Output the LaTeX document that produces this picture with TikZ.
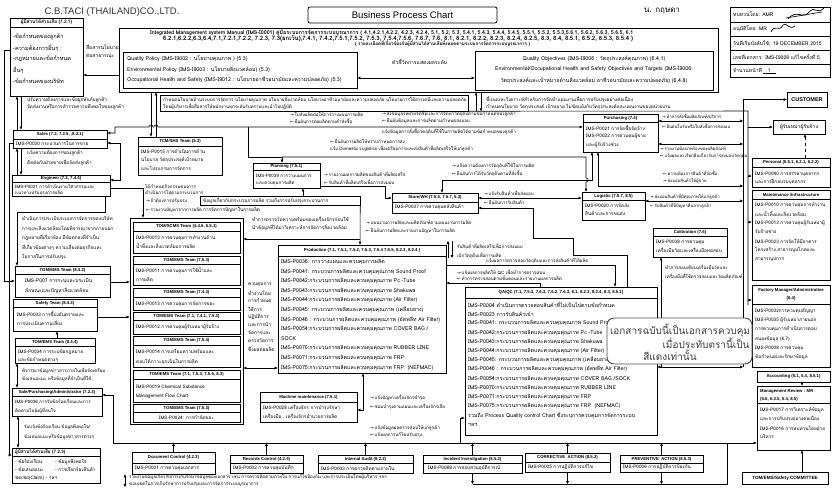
\documentclass[tikz,border=0pt]{standalone}
\usepackage{fontspec}
\setmainfont[Script=Thai]{Loma}
\newfontfamily\en{Liberation Sans}
\newfontfamily\sym{DejaVu Sans}
\usetikzlibrary{arrows.meta,fit}
\newcommand\RA{{\sym →}\,}
\newcommand\LA{{\sym ←}\,}
\tikzset{
  box/.style={draw, line width=0.8pt, inner sep=0pt},
  ln/.style={line width=0.55pt},
  tx/.style={inner sep=0pt, anchor=west, font=\fontsize{4.7}{5}\selectfont},
  sm/.style={font=\fontsize{4.3}{5}\selectfont},
  hd/.style={inner sep=0pt, anchor=center, font=\en\bfseries\fontsize{4.3}{5}\selectfont},
  hdt/.style={inner sep=0pt, anchor=center, font=\bfseries\fontsize{4.7}{5}\selectfont},
  >={Triangle[length=3pt,width=2.6pt]},
}
\newcommand\bx[6][box]{\node[#1, fit={(#3,#4)(#5,#6)}] (#2) {};}
\newcommand\hln{}
\renewcommand\hln[2]{\draw[line width=0.6pt] (#1.west |- 0,#2) -- (#1.east |- 0,#2);}
\newcommand\tx[5][]{\node[tx,#1] (#2) at (#3,#4) {#5};}
\newcommand\lns[6][]{\foreach \ltxt [count=\li] in {#6} {\node[tx,#1] (#2\li) at (#3,{#4+(\li-1)*#5}) {\ltxt};}}
\begin{document}
\begin{tikzpicture}[x=1pt,y=-1pt]
\useasboundingbox (0,0) rectangle (834,495);
% ---------------- header
\node[inner sep=0pt, font=\en\fontsize{9.5}{11}\selectfont, text=black!80] (title) at (112,12) {C.B.TACI (THAILAND)CO.,LTD.};
\node[draw, rounded corners=2pt, line width=0.8pt, minimum width=189pt, minimum height=16pt, inner sep=0pt, font=\en\fontsize{9.5}{11}\selectfont] (bpc) at (402.5,15) {Business Process Chart};
\node[inner sep=0pt, font=\fontsize{8}{9}\selectfont] (hand) at (662,11) {น. กฤษดา};
\bx{tbl}{730}{7}{830}{77}
\foreach \yy in {22,36,50,64} \draw[line width=0.6pt] (tbl.west |- 0,\yy) -- (tbl.east |- 0,\yy);
\tx[font=\fontsize{5.1}{6}\selectfont]{r1}{733}{14.5}{ทบทวนโดย: AMR}
\tx[font=\fontsize{5.1}{6}\selectfont]{r2}{733}{29}{อนุมัติโดย: MR}
\tx[font=\fontsize{5.1}{6}\selectfont]{r3}{733}{43}{วันที่เริ่มบังคับใช้: 19 DECEMBER 2015}
\tx[font=\fontsize{5.1}{6}\selectfont]{r4}{733}{57}{เลขที่เอกสาร: IMS-I9008 แก้ไขครั้งที่ 5}
\tx[font=\fontsize{5.1}{6}\selectfont]{r5}{733}{70.5}{จำนวนหน้าที่\,\underline{\ \ \ 1\ \ \ }}
\draw[line width=0.7pt] (788,19) .. controls (797,8) and (803,21) .. (810,11) .. controls (814,6) and (817,15) .. (824,8);
\draw[line width=0.6pt] (786,18) -- (822,12);
\draw[line width=0.7pt] (771,32) .. controls (775,23) and (779,33) .. (783,25) .. controls (786,21) and (789,31) .. (795,26);
% ---------------- stakeholders (7.2.1)
\bx{sh1}{10}{18}{83}{96}
\hln{sh1}{27}
\node[hdt] (sh1h) at (46.5,22.5) {ผู้มีส่วนได้ส่วนเสีย (7.2.1)};
\lns[font=\fontsize{5.6}{6}\selectfont]{sh1t}{13}{37}{11}{{-ข้อกำหนดของลูกค้า},{-ความต้องการอื่นๆ :},{-กฎหมายและข้อกำหนด},{อื่นๆ},{-ข้อกำหนดของบริษัท}}
\lns[font=\fontsize{5}{6}\selectfont]{pub}{86}{47}{9}{{สื่อสารนโยบาย},{ต่อสาธารณะ}}
% ---------------- IMS manual
\bx{ims}{119}{28}{718}{92}
\node[tx] (imsh1) at (150,33) {\resizebox{483pt}{!}{\bfseries Integrated Management system Manual (IMS-I0001) คู่มือระบบการจัดการระบบบูรณาการ ( 4.1,4.2.1,4.2.2, 4.2.3, 4.2.4, 5.1, 5.2, 5.3, 5.4.1, 5.4.3, 5.4.4, 5.4.5, 5.5.1, 5.5.2, 5.5.3,5.6.1, 5.6.2, 5.6.3, 5.6.5, 6.1}};
\node[tx] (imsh2) at (163,38.5) {\resizebox{470pt}{!}{\bfseries 6.2.1,6.2.2,6.3,6.4,7.1,7.2.1,7.2.2, 7.2.3, 7.3(ยกเว้น),7.4.1, 7.4.2,7.5.1,7.5.2, 7.5.3, 7.5.4,7.5.6, 7.6.7, 7.6, 8.1, 8.2.1, 8.2.2, 8.2.3, 8.2.4, 8.2.5, 8.3, 8.4, 8.5.1, 8.5.2, 8.5.3, 8.5.4 )}};
\node[tx] (imsh3) at (355,44) {\resizebox{175pt}{!}{\bfseries ( รายละเอียดที่เกี่ยวข้องกับผู้มีส่วนได้ส่วนเสียทั้งหมดตามระบบการจัดการระบบบูรณาการ )}};
\bx{pol}{123}{52}{357}{88}
\lns[font=\fontsize{5.3}{6}\selectfont]{polt}{127}{59}{10.5}{{Quality Policy (IMS-I9002 : นโยบายคุณภาพ ) (5.3)},{Environmental Policy (IMS-I9003 : นโยบายสิ่งแวดล้อม) (5.3)},{Occupational Health and Safety (IMS-I9012 : นโยบายอาชีวอนามัยและความปลอดภัย) (5.3)}}
\tx[font=\fontsize{5.1}{6}\selectfont]{kpi}{392}{62}{ตัวชี้วัดการแสดงผลระดับ}
\bx{obj}{475}{51}{713}{90}
\lns[anchor=center,font=\fontsize{5.3}{6}\selectfont]{objt}{594}{59}{10.5}{{Quality Objectives (IMS-I9006 : วัตถุประสงค์คุณภาพ) (6.4.1)},{Environmental/Occupational Health and Safety Objectives and Targets (IMS-I9006:},{วัตถุประสงค์และเป้าหมายด้านสิ่งแวดล้อม อาชีวอนามัยและความปลอดภัย) (6.4.8)}}
% ---------------- band below IMS
\bx[ln,draw,inner sep=0pt]{band}{160}{95}{468}{111}
\lns[font=\fontsize{4.5}{5}\selectfont]{bandt}{163}{99.5}{7}{{กำหนดนโยบายด้านระบบการจัดการ นโยบายคุณภาพ นโยบายสิ่งแวดล้อม นโยบายอาชีวอนามัยและความปลอดภัย นโยบายการใช้สารเคมีและความปลอดภัย},{โดยผู้บริหารเพื่อสื่อสารให้พนักงานทุกระดับรับทราบและนำไปปฏิบัติ}}
\lns{bandr}{486}{99.5}{7}{{ชี้แจงและวิเคราะห์สำหรับการจัดทำแผนงานเพื่อการปรับปรุงอย่างต่อเนื่อง},{กำหนดนโยบาย วัตถุประสงค์ เป้าหมาย ไม่ขัดแย้งกับวัตถุประสงค์และแผนงานของหน่วยงาน}}
\lns{shs}{27}{100}{7}{{ปรับความต้องการและข้อผูกพันกับลูกค้า},{จัดส่งงานหรือการสำรวจความพึงพอใจของลูกค้า}}
% ---------------- left column boxes
\bx{sales}{13}{130}{107}{148}
\hln{sales}{139}
\node[hd] (salesh) at (60,134.5) {Sales (7.2, 7.2.5, ,8.2.1)};
\tx{salest}{16}{143.5}{IMS-P0030 กระบวนการในการขาย}
\lns{ses}{27}{153}{10}{{แจ้งความต้องการของลูกค้า},{ติดต่อกับฝ่ายขายเพื่อจัดส่งลูกค้า}}
\bx{eng}{12}{175}{110}{196}
\hln{eng}{182}
\node[hd] (engh) at (61,178.5) {Engineer (7.3, 7.4.4)};
\lns[font=\fontsize{4.5}{5}\selectfont]{engt}{15}{187}{6.2}{{IMS-P0031 การดำเนินงานวิศวกรรมและ},{แนวทางปรับปรุงการผลิต}}
\lns[font=\fontsize{4.7}{5}\selectfont]{blk}{22}{219}{9.5}{{ดำเนินการประเมินระบบการจัดการของบริษัท},{การและสิ่งแวดล้อมโดยพิจารณาจากภายนอก},{กฎหมายที่เกี่ยวข้อง มีข้อตกลงที่จำเป็น},{ที่เกี่ยวข้องต่างๆ ความเสี่ยงต่อธุรกิจและ},{โอกาสในการปรับปรุง}}
\bx{t842}{15}{266}{110}{297}
\hln{t842}{274}
\node[hd] (t842h) at (62.5,270) {TOM/EMS Team (8.4.2)};
\lns[font=\fontsize{5}{6}\selectfont]{t842t}{25}{281}{9.5}{{IMS-P007 การระบุและประเมิน},{ลักษณะและปัญหาสิ่งแวดล้อม}}
\bx{saf}{13}{299}{97}{331}
\hln{saf}{307}
\node[hd] (safh) at (55,303) {Safety Team (8.4.3)};
\lns{saft}{17}{314}{9.5}{{IMS-P0033 การชี้บ่งอันตรายและ},{การประเมินความเสี่ยง}}
\bx{t844}{15}{338}{95}{363}
\hln{t844}{346}
\node[hd] (t844h) at (55,342) {TOM/EMS Team (8.4.4)};
\lns{t844t}{18}{352}{8}{{IMS-P0034 การระบุข้อกฎหมาย},{และข้อกำหนดต่างๆ}}
\lns[font=\fontsize{4.5}{5}\selectfont]{t844l}{22}{371}{8}{{พิจารณาข้อมูลข่าวสารภายในเพื่อจัดเตรียม},{ข้อเสนอแนะ หรือข้อมูลที่จำเป็นที่ใช้}}
\bx{spa}{12}{388}{102}{416}
\hln{spa}{396}
\node[hd] (spah) at (57,392) {Sale/Purchasing/Administrator (7.2.3)};
\lns[font=\fontsize{4.5}{5}\selectfont]{spat}{15}{402}{8.5}{{IMS-P0036 การรับข้อร้องเรียนและการ},{ติดตามไปยังผู้ที่สนใจ}}
\lns[font=\fontsize{4.5}{5}\selectfont]{spal}{24}{427}{10}{{รับแจ้งข้อร้องเรียน ข้อมูลพึงพอใจ/},{ข้อเสนอแนะหรือข้อมูลข่าวสารต่างๆ}}
\bx{bsh}{12}{448}{100}{483}
\hln{bsh}{456}
\tx[font=\bfseries\fontsize{4.6}{5}\selectfont]{bshh}{15}{452}{ผู้มีส่วนได้ส่วนเสีย (7.2.3)}
\tx{bsa}{15}{462}{- ข้อร้องเรียน}
\tx{bsb}{55}{462}{- ข้อมูลพึงพอใจ}
\tx{bsc}{15}{470}{- ข้อเสนอแนะ}
\tx{bsd}{55}{470}{- การเรียกร้องสินค้า}
\tx{bse}{15}{478}{ชดเชย(Claim) - ฯลฯ}
% ---------------- TCM
\bx{tcm}{138}{137}{222}{175}
\hln{tcm}{146}
\node[hd] (tcmh) at (180,141.5) {TCM/SHS Team (5.3)};
\lns{tcmt}{141}{152}{8}{{IMS-P0015 การดำเนินการด้าน},{นโยบาย วัตถุประสงค์เป้าหมาย},{และโปรแกรมการจัดการ}}
% ---------------- team frame
\bx{frame}{130}{218}{243}{424}
\bx{tm1}{133}{222}{240}{253}
\hln{tm1}{231}
\node[hd] (tm1h) at (186.5,226.5) {TOM/SCMS Team (4.4.6, 6.5.1)};
\lns{tm1t}{136}{238}{8.5}{{IMS-P0013 การควบคุมการทำงานด้าน},{น้ำทิ้งและสิ่งแวดล้อมการผลิต}}
\bx{tm2}{133}{256}{240}{285}
\hln{tm2}{264}
\node[hd] (tm2h) at (186.5,260) {TOM/EMS Team (7.5.3)};
\lns{tm2t}{136}{271}{8.5}{{IMS-P0011 การควบคุมการใช้น้ำและ},{การผลิต}}
\bx{tm3}{133}{288}{240}{310}
\hln{tm3}{297}
\node[hd] (tm3h) at (186.5,292.5) {TOM/EMS Team (7.4.3)};
\tx{tm3t}{136}{304}{IMS-P0013 การควบคุมการจัดการขยะ}
\bx{tm4}{133}{312}{240}{334}
\hln{tm4}{320}
\node[hd] (tm4h) at (186.5,316) {TOM/EMS Team (7.1, 7.4.1, 7.5.3)};
\tx{tm4t}{136}{327}{IMS-P0012 การควบคุมผู้รับเหมาผู้รับจ้าง}
\bx{tm5}{133}{336}{240}{367}
\hln{tm5}{345}
\node[hd] (tm5h) at (186.5,340.5) {TOM/EMS Team (7.5.4)};
\lns{tm5t}{136}{352}{9.5}{{IMS-P0014 การเตรียมความพร้อมและ},{ตอบโต้ภาวะฉุกเฉินในการผลิต}}
\bx{tm6}{133}{370}{240}{402}
\hln{tm6}{379}
\node[hd] (tm6h) at (186.5,374.5) {TOM/EMS Team (7.1, 7.5.3, 7.5.5, 8.3)};
\lns{tm6t}{136}{387}{9}{{IMS-P0019 Chemical Substance},{Management Flow Chart}}
\bx{tm7}{133}{404}{240}{422}
\hln{tm7}{412}
\node[hd] (tm7h) at (186.5,408) {TOM/EMS Team (7.5.3)};
\node[tx,anchor=center] (tm7t) at (186.5,417.5) {IMS-P0024: การกำจัดขยะ};
\lns[font=\fontsize{4.8}{5}\selectfont]{col}{248}{285}{8}{{ควบคุมการ},{ทำงานโดย},{การกำหนด},{วิธีการ},{ปฏิบัติการ},{และการนำ},{จัดการและ},{ตรวจวัดการ},{ซึ่งผลต่อผลิต}}
% ---------------- planning area
\bx{plan}{253}{163}{320}{188}
\hln{plan}{170}
\node[hd] (planh) at (286.5,166.5) {Planning (7.5.1)};
\lns[font=\fontsize{4.5}{5}\selectfont]{plant}{256}{176}{7}{{IMS-P0039 การวางแผนการ},{และควบคุมการผลิต}}
\bx[ln,draw,inner sep=0pt]{prb}{200}{196}{360}{205}
\tx{prbt}{203}{200.5}{ข้อมูลเกี่ยวกับกระบวนการผลิต รวมถึงการปรับปรุงกระบวนการ}
\tx{prbu}{203}{210}{การจัดการปัญหาในการผลิต}
\lns[font=\fontsize{4.5}{5}\selectfont]{ptx}{145}{186}{6.5}{{ได้กำหนดกิจกรรมของการ},{ดำเนินการไปตามกระบวนการ}}
\tx[font=\fontsize{4.5}{5}\selectfont]{ptx3}{146}{201}{\RA ถ้าต้องการปรับปรุง}
\tx[font=\fontsize{4.5}{5}\selectfont]{ptx4}{146}{210}{\LA รายงานปัญหาจากการผลิต}
\lns{abp}{252}{219}{9}{{ทำการตรวจวัดความพร้อมของเครื่องจักรก่อนใช้},{นำข้อมูลที่ได้มาวิเคราะห์การจัดการสิ่งแวดล้อม}}
\lns[font=\fontsize{4.5}{5}\selectfont]{abq}{366}{223}{8}{{\RA แผนงานการผลิตและผลิตภัณฑ์ตามแผนงานการผลิต},{\LA ยืนยันการผลิตและรายงานปัญหาในการผลิต}}
% ---------------- store, purchasing, logistic
\bx{store}{392}{193}{478}{213}
\hln{store}{202}
\node[hd] (storeh) at (435,197.5) {Store/WH (7.5.5, 7.5.7, 5.3)};
\tx{storet}{395}{207.5}{IMS-P0037 การควบคุมคลังสินค้า}
\bx{pur}{583}{114}{658}{152}
\hln{pur}{122}
\node[hd] (purh) at (620.5,118) {Purchasing (7.4)};
\lns{purt}{586}{128}{8.5}{{IMS-P0021 การจัดซื้อจัดจ้าง},{IMS-P0022 การควบคุมผู้ขาย},{และผู้รับจ้างช่วง}}
\bx{log}{582}{192}{645}{220}
\hln{log}{200}
\node[hd] (logh) at (613.5,196) {Logistic (7.5.7, 8.5)};
\lns{logt}{585}{206}{8}{{IMS-P0020 การจัดส่ง},{สินค้าและการขนส่ง}}
\bx{cal}{653}{228}{727}{257}
\hln{cal}{236}
\node[hd] (calh) at (690,232) {Calibration (7.6)};
\lns{calt}{656}{242}{8}{{IMS-P0038 การควบคุม},{เครื่องมือวัดและเครื่องมือทดสอบ}}
\lns[font=\fontsize{4.5}{5}\selectfont]{call}{665}{267}{9}{{ทำการสอบเทียบเครื่องมือวัดและ},{เครื่องมือที่ใช้ตรวจสอบและวัดผลิตภัณฑ์}}
% ---------------- production, QA, machine
\bx{prod}{278}{245}{446}{373}
\hln{prod}{256}
\node[hd] (prodh) at (362,250.5) {Production (7.1, 7.5.1, 7.5.2, 7.5.3, 7.5.4 7.5.5, 8.2.3, 8.2.4 )};
\lns[font=\fontsize{5.3}{6}\selectfont]{prodt}{281}{262}{9.6}{{IMS-P0036: การวางแผนและควบคุมการผลิต},{IMS-P0041: กระบวนการผลิตและควบคุมคุณภาพ Sound Proof},{IMS-P0042:กระบวนการผลิตและควบคุมคุณภาพ Pc -Tube},{IMS-P0043:กระบวนการผลิตและควบคุมคุณภาพ Shakuwa},{IMS-P0044:กระบวนการผลิตและควบคุมคุณภาพ (Air Filter)},{IMS-P0045: กระบวนการผลิตและควบคุมคุณภาพ (เคลือบยาง)},{IMS-P0046 : กระบวนการผลิตและควบคุมคุณภาพ (อัดพลีท Air Filter)},{IMS-P0054:กระบวนการผลิตและควบคุมคุณภาพ COVER BAG /},{SOCK},{IMS-P0070:กระบวนการผลิตและควบคุมคุณภาพ RUBBER LINE},{IMS-P0071:กระบวนการผลิตและควบคุมคุณภาพ FRP},{IMS-P0075:กระบวนการผลิตและควบคุมคุณภาพ FRP\ \ (NEFMAC)}}
\bx{qa}{465}{287}{657}{435}
\hln{qa}{298}
\node[hd] (qah) at (561,292.5) {QA/QC (7.1, 7.5.3, 7.6.3, 7.6.2, 7.6.3, 8.1, 8.2.3, 8.2.4, 8.3, 8.5.1)};
\lns[font=\fontsize{5.3}{6}\selectfont]{qat}{468}{305}{9.2}{{IMS-P0004 ดำเนินการตรวจสอบสินค้าที่ไม่เป็นไปตามข้อกำหนด},{IMS-P0023 การรับสินค้าเข้า},{IMS-P0041: กระบวนการผลิตและควบคุมคุณภาพ Sound Proof},{IMS-P0042:กระบวนการผลิตและควบคุมคุณภาพ Pc -Tube},{IMS-P0043:กระบวนการผลิตและควบคุมคุณภาพ Shakuwa},{IMS-P0044:กระบวนการผลิตและควบคุมคุณภาพ (Air Filter)},{IMS-P0045: กระบวนการผลิตและควบคุมคุณภาพ (เคลือบยาง)},{IMS-P0046 : กระบวนการผลิตและควบคุมคุณภาพ (อัดพลีท Air Filter)},{IMS-P0054:กระบวนการผลิตและควบคุมคุณภาพ COVER BAG /SOCK},{IMS-P0070:กระบวนการผลิตและควบคุมคุณภาพ RUBBER LINE},{IMS-P0071:กระบวนการผลิตและควบคุมคุณภาพ FRP},{IMS-P0075:กระบวนการผลิตและควบคุมคุณภาพ FRP\ \ (NEFMAC)},{รวมถึง Process Quality control Chart ซึ่งระบุการควบคุมการจัดการระบบ},{ฯลฯ}}
\bx{mm}{260}{392}{357}{422}
\hln{mm}{402}
\node[hd] (mmh) at (308.5,397) {Machine maintenance (7.5.1)};
\lns{mmt}{263}{408}{8.5}{{IMS-P0028 เครื่องจักร การบำรุงรักษา},{เครื่องมือ , เครื่องจักรอำนวยการผลิต}}
\lns[font=\fontsize{4.5}{5}\selectfont]{mml}{370}{398}{9}{{\RA แจ้งปัญหาเครื่องจักรชำรุด},{\LA ซ่อมบำรุงตามแผนและเครื่องจักรเสีย}}
\lns[font=\fontsize{4.5}{5}\selectfont]{qal}{370}{428}{7.5}{{\RA แจ้งข้อมูลผลตรวจสอบให้แก่ลูกค้า},{\LA แจ้งผลการแก้ไขปรับปรุง}}
% ---------------- right column
\node[box, fit={(787,92)(827,107)}, label={[font=\en\bfseries\fontsize{5.5}{6}\selectfont, name=custt]center:CUSTOMER}] (cust) {};
\node[box, fit={(773,120)(825,134)}, label={[font=\fontsize{5.2}{6}\selectfont, name=cont]center:ผู้รับเหมาผู้รับจ้าง}] (con) {};
\bx{per}{752}{158}{830}{187}
\hln{per}{167}
\node[hd] (perh) at (791,162.5) {Personal (5.5.1, 6.2.1, 6.2.2)};
\lns{pert}{755}{174}{8}{{IMS-P0040 การสรรหาบุคลากร},{และการฝึกอบรมบุคลากร}}
\bx{mnt}{752}{190}{830}{280}
\hln{mnt}{199}
\node[hd] (mnth) at (791,194.5) {Maintenance /infrastructure};
\lns{mntt}{755}{205}{9}{{IMS-P0010 การควบคุมการทำงาน},{และน้ำทิ้งและสิ่งแวดล้อม},{IMS-P0013 การควบคุมผู้รับเหมาผู้},{รับจ้างช่าง},{IMS-P0023 การจัดให้มีอาคาร},{โครงสร้าง,สาธารณูปโภคและ},{สาธารณูปการ}}
\bx{fm}{752}{285}{830}{367}
\hln{fm}{304}
\node[hd] (fmh1) at (791,290) {Factory Manager/Administrative};
\node[hd] (fmh2) at (791,298.5) {(6.4)};
\lns{fmt}{755}{311}{9.3}{{IMS-P0032การควบคุมสัญญา},{IMS-P0035 ผู้รับเหมาภายนอก},{การควบคุมการดำเนินการตอบ},{สนองข้อมูล (6.7)},{IMS-P0008 การควบคุม},{ข้อกำหนดและรักษาข้อมูล}}
\node[box, fit={(757,371)(830,382)}, label={[font=\en\bfseries\fontsize{4.3}{5}\selectfont, name=acct]center:Accounting (5.1, 5.4, 8.5.1)}] (acc) {};
\bx{mr}{757}{386}{830}{450}
\hln{mr}{403}
\tx[font=\en\bfseries\fontsize{4.3}{5}\selectfont]{mrh1}{760}{391}{Management Review : MR}
\tx[font=\en\bfseries\fontsize{4.3}{5}\selectfont]{mrh2}{760}{399}{(5.6, 6.3.5, 5.4, 8.5)}
\lns{mrt}{760}{410}{9}{{IMS-P0017 การวิเคราะห์ข้อมูล},{และการปรับปรุงอย่างต่อเนื่อง},{IMS-P0016 การทบทวนโดยฝ่าย},{บริหาร}}
\node[box, fit={(742,472)(828,484)}, label={[font=\en\bfseries\fontsize{4.6}{5}\selectfont, name=comt]center:TOM/EMS/Safety COMMITTEE}] (com) {};
% ---------------- bottom row
\bx{doc}{132}{452}{215}{474}
\hln{doc}{463}
\node[hd] (doch) at (173.5,457.5) {Document Control (4.2.3)};
\tx{doct}{135}{468.5}{IMS-P0001 การควบคุมเอกสาร}
\bx{rec}{230}{455}{303}{473}
\hln{rec}{463}
\node[hd] (rech) at (266.5,459) {Records Control (4.2.4)};
\tx{rect}{233}{468}{IMS-P0002 การควบคุมบันทึก}
\bx{ia}{318}{455}{413}{473}
\hln{ia}{463}
\node[hd] (iah) at (365.5,459) {Internal Audit (8.2.2)};
\tx{iat}{321}{468}{IMS-P0003 การตรวจติดตามภายใน}
\bx{inc}{423}{455}{522}{473}
\hln{inc}{463}
\node[hd] (inch) at (472.5,459) {Incident Investigation (8.5.2)};
\tx{inct}{428}{468}{IMS-P0088 การสอบสวนอุบัติการณ์}
\bx{ca}{525}{453}{610}{472}
\hln{ca}{462}
\node[hd] (cah) at (567.5,457.5) {CORRECTIVE\ \ ACTION (8.5.2)};
\tx{cat}{528}{467}{IMS-P0005 การปฏิบัติการแก้ไข}
\bx{pa}{620}{455}{703}{472}
\hln{pa}{463}
\node[hd] (pah) at (661.5,459) {PREVENTIVE\ \ ACTION (8.5.3)};
\tx{pat}{623}{467.5}{IMS-P0006 การปฏิบัติการป้องกัน}
\lns[font=\fontsize{4.5}{5}\selectfont]{botl}{129}{477}{7}{{รายงานข้อมูลเกี่ยวกับการเก็บรักษาข้อมูลของเอกสาร เช่น การตรวจติดตามภายใน การแก้ไขป้องกัน และการประเมินโดยผู้บริหาร ฯลฯ},{ขอบเขตในการเก็บรักษาการปรับปรุงและการจัดการระบบบูรณาการ}}
% ---------------- labels on connectors
\lns[font=\fontsize{4.5}{5}\selectfont]{la}{290}{114}{7}{{\RA ใบสั่งผลิตต่อให้การวางแผนการผลิต},{\LA ยืนยันการต่อผลิตตามคำสั่งซื้อ}}
\lns[font=\fontsize{4.5}{5}\selectfont]{lb}{382}{114}{7}{{\RA ส่งข้อมูลให้ฝ่ายจัดซื้อและการจัดหาวัตถุดิบตามข้อกำหนดของลูกค้า},{\LA ยืนยันข้อมูลและการผลิตตามกำหนดส่งมอบ}}
\tx[font=\fontsize{4.5}{5}\selectfont]{lc}{382}{132}{แจ้งข้อมูลการสั่งซื้อวัตถุดิบที่ใช้ในการผลิตได้ตามข้อกำหนดของลูกค้า}
\lns[font=\fontsize{4.5}{5}\selectfont]{ld}{330}{141}{8}{{\LA ยืนยันการผลิตให้ทราบกำหนดการส่ง},{แจ้ง Domestic Logistics เพื่อเตรียมการและส่งสินค้าที่ผลิตเสร็จให้แก่ลูกค้า}}
\lns[font=\fontsize{4.5}{5}\selectfont]{le}{452}{166}{8}{{\RA แจ้งความต้องการวัตถุดิบที่ใช้ในการผลิต},{\LA ยืนยันการได้รับวัตถุดิบตามที่สั่งซื้อ}}
\lns[font=\fontsize{4.5}{5}\selectfont]{lf}{324}{174}{8}{{\RA รายงานผลการผลิตของสินค้าที่ผลิตเสร็จ},{\LA รับสินค้าที่ผลิตเสร็จเพื่อการส่งมอบ}}
\tx[font=\fontsize{4.5}{5}\selectfont]{lg1}{484}{193.5}{\RA แจ้งรับสินค้าเพื่อส่งมอบ}
\tx[font=\fontsize{4.5}{5}\selectfont]{lg2}{484}{203}{\LA ยืนยันการรับสินค้า}
\lns[font=\fontsize{4.5}{5}\selectfont]{lh}{457}{246}{10}{{รับสินค้าที่ผลิตเสร็จเพื่อการส่งมอบ},{เบิกวัตถุดิบเพื่อการผลิต}}
\tx[font=\fontsize{4.5}{5}\selectfont]{li}{486}{260.5}{แจ้งผลการตรวจสอบวัตถุดิบและการส่งสินค้าที่ได้ผลิต}
\lns[font=\fontsize{4.5}{5}\selectfont]{lj}{457}{272}{6.5}{{\RA แจ้งผลการผลิตให้ QC เพื่อทำการตรวจสอบ},{\LA ทำการตรวจสอบตามขั้นตอนและรายงานผลการผลิต}}
\tx[sm]{lk1}{650}{196.5}{\RA ส่งมอบสินค้าที่มีคุณภาพให้แก่ลูกค้า}
\tx[sm]{lk2}{650}{205.5}{\LA รับสินค้าที่มีปัญหาคืนจากลูกค้า}
\tx[sm]{ll1}{662}{116}{\RA ทำการสั่งซื้อผลิตภัณฑ์/บริการ}
\tx[sm]{ll2}{662}{126}{\LA ยืนยันใบรับหรือใบสั่งซื้อการส่งมอบ}
\tx[sm]{lm1}{660}{149}{\RA รายงานข้อบกพร่องของผลิตภัณฑ์}
\tx[sm]{lm2}{660}{156}{\LA แจ้งผลและเรียกคืนเกี่ยวกับการส่งมอบวัตถุดิบ}
\tx[sm]{ln1}{663}{173}{\LA ความต้องการสินค้าที่จัดซื้อ}
\tx[sm]{ln2}{663}{181}{\RA ส่งมอบสินค้าให้ผู้ขาย}
% ---------------- connectors
\draw[ln,->] (ims.west |- 0,75) -- (sh1.east |- 0,75);
\draw[ln,<->] (pol.east |- 0,78) -- (obj.west |- 0,78);
\draw[ln,->] (band.south -| 476,0) -- (ims.south -| 476,0);
\draw[ln,->] (ims.south -| 481,0) -- (band.south -| 481,0);
\coordinate (b748t) at (748,111);
\coordinate (b748b) at (748,305);
\coordinate (b743b) at (743,367);
\draw[ln] (band.south east) -- (b748t) -- (b748b);
\draw[ln,->] (b743b) -- (743,99.5) -- (cust.west |- 0,99.5);
\draw[ln,->] (b748t |- 0,127) -- (con.west |- 0,127);
\draw[ln,dashed,->] (per.north -| 805,0) -- (con.south -| 805,0);
\draw[ln,->] (sales.north -| 17,0) -- (sh1.south -| 17,0);
\draw[ln,->] (sh1.south -| 21,0) -- (sales.north -| 21,0);
\draw[ln,->] (eng.north -| 17,0) -- (sales.south -| 17,0);
\draw[ln,->] (sales.south -| 21,0) -- (eng.north -| 21,0);
\draw[ln,->] (sh1.west |- 0,50) -- (4,50) -- (4,281) -- (t842.west |- 0,281);
\draw[ln,->] (sales.west |- 0,143) -- (9,143) -- (9,455) -- (bsh.west |- 0,455);
\draw[ln,->] (ims.south -| 151,0) -- (tcm.north -| 151,0);
\draw[ln,->] (tcm.north -| 156,0) -- (ims.south -| 156,0);
\draw[ln,<->] (sales.east |- 0,133) -- (115,133) -- (115,127) -- (149,127) arc[start angle=180,end angle=0,radius=2pt] -- (154,127) arc[start angle=180,end angle=0,radius=2pt] -- (pur.west |- 0,127);
\coordinate (j248) at (248,127);
\draw[ln] (j248) -- (248,157) -- (282,157);
\draw[ln,->] (282,157) -- (plan.north -| 282,0);
\draw[ln,->] (282,157) -- (586,157) -- (586,178) arc[start angle=90,end angle=-90,radius=2pt] -- (log.north -| 586,0);
\draw[ln,<->] (sales.east |- 0,143) -- (120,143) -- (120,180) -- (eng.east |- 0,180);
\draw[ln,->] (eng.east |- 0,188) -- (143,188) -- (frame.north -| 143,0);
\draw[ln,->] (eng.south -| 105,0) -- (105,212) -- (17,212) -- (t842.north -| 17,0);
\draw[ln,->] (t842.east |- 0,282) -- (frame.west |- 0,282);
\draw[ln,->] (saf.east |- 0,317) -- (frame.west |- 0,317);
\draw[ln,->] (t844.north -| 57,0) -- (saf.south -| 57,0);
\draw[ln,<->] (t844.south -| 17,0) -- (spa.north -| 17,0);
\draw[ln,<->] (spa.south -| 18,0) -- (bsh.north -| 18,0);
\draw[ln,<->] (spa.east |- 0,395) -- (113,395) -- (113,443) -- (460,443) -- (460,418) -- (qa.west |- 0,418);
\draw[ln,->] (460,443) -- (mr.west |- 0,443);
\foreach \b in {doc,rec,ia,inc,ca,pa} \draw[ln,->] (\b.north) -- (\b.north |- 0,443);
\foreach \b in {inc,ca,pa} \draw[ln,->] (\b.south) -- (\b.south |- 0,484);
\draw[ln] (inc.south |- 0,484) -- (727,484) -- (727,443);
\draw[ln,<->] (doc.south -| 125,0) -- (125,487);
\draw[ln,<->] (frame.east |- 0,368) -- (prod.west |- 0,368);
\draw[ln,->] (360,239) -- (frame.east |- 0,239);
\draw[ln,->] (prb.south east) -- (prod.north -| 360,0);
\draw[ln,->] (prb.north -| 303,0) -- (plan.south -| 303,0);
\draw[ln,->] (plan.east |- 0,186) -- (385,186) -- (385,198) -- (store.west |- 0,198);
\draw[ln,<->] (store.north -| 442,0) -- (442,180) -- (592,180) -- (pur.south -| 592,0);
\draw[ln,<->] (pur.south -| 598,0) -- (598,186) -- (743,186);
\draw[ln,<->] (pur.east |- 0,121) -- (743,121);
\draw[ln,<->] (pur.east |- 0,144) -- (743,144);
\draw[ln,<->] (store.east |- 0,198) -- (log.west |- 0,198);
\draw[ln,<->] (log.east |- 0,201) -- (743,201);
\draw[ln,->] (b748t |- 0,176) -- (per.west |- 0,176);
\draw[ln,->] (b748t |- 0,222) -- (mnt.west |- 0,222);
\draw[ln,->] (b748t |- 0,300) -- (fm.west |- 0,300);
\draw[ln,->] (acc.south -| 802,0) -- (mr.north -| 802,0);
\draw[ln,->] (com.north -| 802,0) -- (mr.south -| 802,0);
\draw[ln,<->] (qa.east |- 0,367) -- (b743b);
\draw[ln,->] (661,367) -- (cal.south -| 661,0);
\draw[ln,->] (qa.north -| 627,0) -- (627,255) -- (573,255) -- (573,238) -- (533,238) -- (533,208) -- (store.east |- 0,208);
\draw[ln,->] (prod.east |- 0,265) -- (615,265) -- (qa.north -| 615,0);
\draw[ln,<-] (prod.east |- 0,283) -- (540,283) -- (qa.north -| 540,0);
\draw[ln,<->] (mm.east |- 0,410) -- (363,410) -- (prod.south -| 363,0);
\draw[ln,->] (448,258) -- (448,241);
\draw[ln,->] (452,241) -- (452,258);
% ---------------- stamp
\node[draw=black!70, rounded corners=7pt, fill=white, line width=0.9pt, inner sep=0pt, fit={(607,318)(752,364)}] (stamp) {};
\node[inner sep=0pt, font=\fontsize{10}{11}\selectfont, text=black!75] (st1) at (680,331) {เอกสารฉบับนี้เป็นเอกสารควบคุม};
\node[inner sep=0pt, font=\fontsize{10}{11}\selectfont, text=black!75] (st2) at (706,343) {เมื่อประทับตรานี้เป็น};
\node[inner sep=0pt, font=\fontsize{10}{11}\selectfont, text=black!75] (st3) at (670,355) {สีแดงเท่านั้น};
\end{tikzpicture}
\end{document}
